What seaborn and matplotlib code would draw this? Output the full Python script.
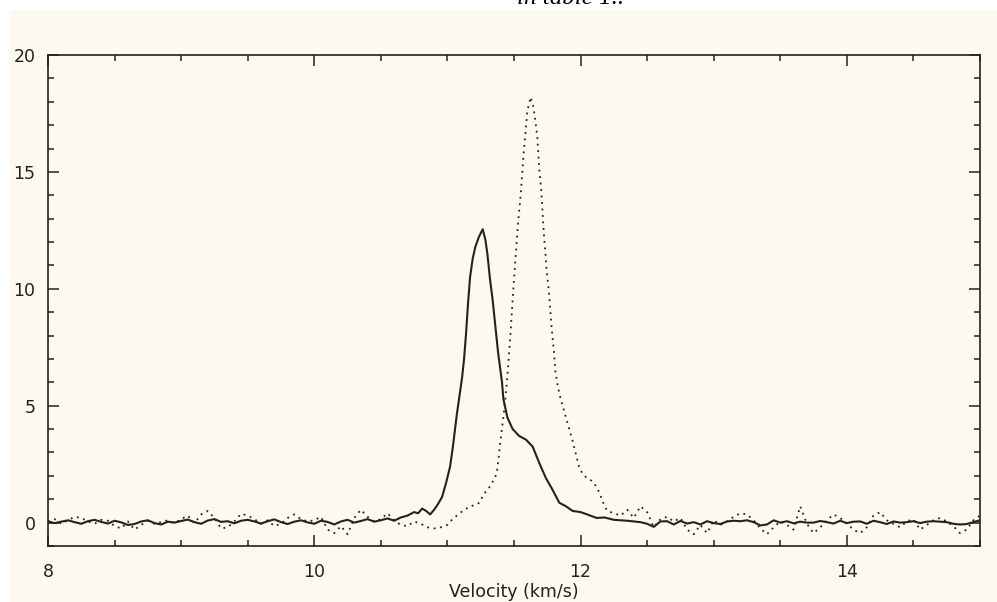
import numpy as np
import pandas as pd
import matplotlib
matplotlib.use("Agg")
import matplotlib.pyplot as plt
from matplotlib.patches import Rectangle
from matplotlib.ticker import MultipleLocator
import seaborn as sns

# ---------------- data ----------------
vel_solid = [8.00, 8.05, 8.10, 8.15, 8.20, 8.25, 8.30, 8.35, 8.40, 8.45,
             8.50, 8.55, 8.60, 8.65, 8.70, 8.75, 8.80, 8.85, 8.90, 8.95,
             9.00, 9.05, 9.10, 9.15, 9.20, 9.25, 9.30, 9.35, 9.40, 9.45,
             9.50, 9.55, 9.60, 9.65, 9.70, 9.75, 9.80, 9.85, 9.90, 9.95,
             10.00, 10.05, 10.10, 10.15, 10.20, 10.25, 10.30, 10.35, 10.40, 10.45,
             10.50, 10.55, 10.60, 10.65, 10.70,
             10.75, 10.78, 10.81, 10.84, 10.87, 10.90, 10.93, 10.96, 10.99, 11.02,
             11.04, 11.07, 11.09, 11.11, 11.125, 11.14, 11.155, 11.17, 11.19, 11.21,
             11.235, 11.265, 11.285, 11.30, 11.32, 11.34, 11.36, 11.38, 11.41, 11.42,
             11.45, 11.49, 11.54, 11.59, 11.64, 11.69, 11.74, 11.79, 11.84, 11.89,
             11.94, 12.00, 12.05, 12.12, 12.18, 12.25,
             12.30, 12.35, 12.40, 12.45, 12.50, 12.55, 12.60, 12.65, 12.70, 12.75,
             12.80, 12.85, 12.90, 12.95, 13.00, 13.05, 13.10, 13.15, 13.20, 13.25,
             13.30, 13.35, 13.40, 13.45, 13.50, 13.55, 13.60, 13.65, 13.70, 13.75,
             13.80, 13.85, 13.90, 13.95, 14.00, 14.05, 14.10, 14.15, 14.20, 14.25,
             14.30, 14.35, 14.40, 14.45, 14.50, 14.55, 14.60, 14.65, 14.70, 14.75,
             14.80, 14.85, 14.90, 14.95, 15.00]
tmb_solid = [0.05, -0.02, 0.04, 0.10, 0.02, -0.05, 0.06, 0.12, 0.03, -0.04,
             0.08, 0.01, -0.10, -0.06, 0.05, 0.10, -0.02, -0.08, 0.04, 0.00,
             0.07, 0.13, 0.02, -0.05, 0.09, 0.15, 0.03, 0.06, -0.03, 0.08,
             0.12, 0.05, -0.04, 0.06, 0.14, 0.02, -0.06, 0.04, 0.10, 0.01,
             -0.05, 0.08, 0.03, -0.08, 0.05, 0.12, 0.00, 0.07, 0.15, 0.04,
             0.10, 0.18, 0.08, 0.22, 0.30,
             0.45, 0.40, 0.60, 0.50, 0.35, 0.55, 0.80, 1.10, 1.70, 2.40,
             3.20, 4.60, 5.40, 6.20, 7.00, 8.10, 9.40, 10.50, 11.30, 11.80,
             12.20, 12.55, 12.10, 11.50, 10.40, 9.50, 8.40, 7.30, 6.00, 5.30,
             4.50, 4.00, 3.70, 3.55, 3.25, 2.55, 1.90, 1.40, 0.85, 0.70,
             0.50, 0.45, 0.35, 0.20, 0.22, 0.12,
             0.10, 0.08, 0.05, 0.02, -0.05, -0.18, 0.05, 0.06, -0.08, 0.07,
             -0.04, 0.02, -0.08, 0.06, -0.02, -0.06, 0.05, 0.08, 0.06, 0.10,
             0.02, -0.12, -0.08, 0.10, 0.00, 0.06, -0.03, 0.04, 0.00, 0.00,
             0.07, 0.02, -0.04, 0.08, -0.02, 0.04, 0.05, -0.05, 0.08, 0.02,
             -0.06, 0.05, 0.00, 0.02, 0.06, -0.02, 0.04, 0.06, 0.04, 0.02,
             -0.05, -0.08, -0.06, 0.02, 0.10]

vel_dotted = [8.00, 8.05, 8.10, 8.15, 8.20, 8.25, 8.30, 8.35, 8.40, 8.45,
              8.50, 8.55, 8.60, 8.65, 8.70, 8.75, 8.80, 8.85, 8.90, 8.95,
              9.00, 9.05, 9.10, 9.15, 9.20, 9.25, 9.30, 9.35, 9.40, 9.45,
              9.50, 9.55, 9.60, 9.65, 9.70, 9.75, 9.80, 9.85, 9.90, 9.95,
              10.00, 10.05, 10.10, 10.15, 10.20, 10.25, 10.30, 10.35, 10.40, 10.45,
              10.50, 10.55, 10.60, 10.65, 10.70, 10.75, 10.80, 10.85, 10.90, 10.95,
              11.00, 11.03, 11.06, 11.09, 11.13, 11.17, 11.21, 11.24, 11.27, 11.30,
              11.32, 11.35, 11.37, 11.385, 11.40, 11.42, 11.44, 11.455, 11.465, 11.475,
              11.485, 11.495, 11.505, 11.515, 11.525, 11.535, 11.55, 11.56, 11.57, 11.58,
              11.59, 11.60, 11.625, 11.645, 11.66, 11.675, 11.69, 11.705, 11.715, 11.725,
              11.735, 11.745, 11.76, 11.77, 11.78, 11.79, 11.80, 11.81, 11.83, 11.85,
              11.88, 11.90, 11.94, 11.97, 11.99, 12.02, 12.05, 12.08, 12.10, 12.14,
              12.17, 12.20,
              12.25, 12.30, 12.35, 12.40, 12.45, 12.50, 12.55, 12.60, 12.65, 12.70,
              12.75, 12.80, 12.85, 12.90, 12.95, 13.00, 13.05, 13.10, 13.15, 13.20,
              13.25, 13.30, 13.35, 13.40, 13.45, 13.50, 13.55, 13.60, 13.65, 13.70,
              13.75, 13.80, 13.85, 13.90, 13.95, 14.00, 14.05, 14.10, 14.15, 14.20,
              14.25, 14.30, 14.35, 14.40, 14.45, 14.50, 14.55, 14.60, 14.65, 14.70,
              14.75, 14.80, 14.85, 14.90, 14.95, 15.00]
tmb_dotted = [0.05, 0.15, -0.05, 0.10, 0.25, 0.20, 0.05, -0.05, 0.12, 0.08,
              -0.15, -0.25, 0.05, -0.30, -0.10, 0.08, -0.05, 0.02, 0.10, -0.02,
              0.15, 0.30, -0.02, 0.35, 0.50, 0.20, -0.25, -0.20, 0.05, 0.38,
              0.30, 0.15, -0.05, 0.10, -0.15, -0.05, 0.20, 0.35, 0.15, 0.05,
              0.10, 0.25, -0.30, -0.45, -0.15, -0.50, 0.20, 0.55, 0.25, 0.05,
              0.15, 0.40, 0.10, -0.10, -0.15, 0.05, -0.05, -0.20, -0.25, -0.20,
              -0.10, 0.10, 0.25, 0.40, 0.55, 0.70, 0.75, 0.85, 1.20, 1.40,
              1.55, 1.85, 2.10, 2.80, 3.60, 4.50, 5.60, 6.60, 7.40, 8.20,
              9.10, 10.00, 10.80, 11.60, 12.40, 13.10, 14.00, 14.80, 15.60, 16.30,
              16.90, 17.60, 18.20, 17.80, 17.20, 16.50, 15.10, 14.20, 13.20, 12.30,
              11.60, 10.80, 10.00, 9.30, 8.50, 7.90, 7.30, 6.50, 5.80, 5.30,
              4.70, 4.30, 3.50, 2.80, 2.35, 2.05, 1.90, 1.80, 1.70, 1.30,
              0.85, 0.50,
              0.40, 0.30, 0.55, 0.20, 0.70, 0.45, -0.20, 0.15, 0.25, 0.05,
              0.20, -0.30, -0.50, -0.10, -0.45, 0.10, -0.10, 0.05, 0.25, 0.40,
              0.35, 0.10, -0.25, -0.50, -0.20, 0.05, -0.10, -0.30, 0.70, -0.05,
              -0.45, -0.20, 0.10, 0.35, 0.20, -0.05, -0.30, -0.45, -0.20, 0.30,
              0.45, 0.10, -0.05, -0.20, 0.05, 0.15, -0.30, -0.10, 0.10, 0.20,
              0.05, -0.15, -0.45, -0.30, 0.10, 0.30]

x_ticks = [8, 10, 12, 14]
y_ticks = [0, 5, 10, 15, 20]
x_label = "Velocity (km/s)"
caption = "in table 1.."

# ---------------- styling ----------------
cream = "#FDF9EE"
ink = "#222222"

W, H = 997, 602
fig = plt.figure(figsize=(W / 100, H / 100), dpi=100, facecolor="white")
fig.patches.append(Rectangle((10 / W, 0), 1, (H - 10) / H, transform=fig.transFigure,
                             facecolor=cream, edgecolor="none", zorder=-10))

ax = fig.add_axes([48 / W, (H - 546) / H, 932 / W, 491 / H])
ax.set_zorder(5)
ax.set_facecolor(cream)

df_s = pd.DataFrame({"v": vel_solid, "T": tmb_solid})
df_d = pd.DataFrame({"v": vel_dotted, "T": tmb_dotted})

sns.lineplot(data=df_s, x="v", y="T", ax=ax, sort=False, estimator=None,
             color=ink, linewidth=1.5)
sns.lineplot(data=df_d, x="v", y="T", ax=ax, sort=False, estimator=None,
             color=ink, linewidth=1.3, linestyle=(0, (1, 2.6)))

ax.set_xlim(8, 15)
ax.set_ylim(-1, 20)
ax.set_xticks(x_ticks)
ax.set_yticks(y_ticks)
ax.xaxis.set_minor_locator(MultipleLocator(0.5))
ax.yaxis.set_minor_locator(MultipleLocator(1))
ax.tick_params(which="both", direction="in", top=True, right=True,
               color=ink, width=1.1, labelcolor=ink, labelsize=12.5)
ax.tick_params(which="major", length=8)
ax.tick_params(which="minor", length=4)
ax.tick_params(axis="x", which="major", pad=12)
ax.tick_params(axis="y", which="major", pad=9)
for s in ax.spines.values():
    s.set_color(ink)
    s.set_linewidth(1.2)

ax.set_xlabel(x_label, fontsize=12.5, color=ink, labelpad=2)
ax.set_ylabel("")

fig.text(571 / W, 1 - 4 / H, caption, ha="center", va="baseline",
         family="Liberation Serif", style="italic", fontsize=18, color="black")

fig.savefig("out.png", dpi=100, facecolor="white")
